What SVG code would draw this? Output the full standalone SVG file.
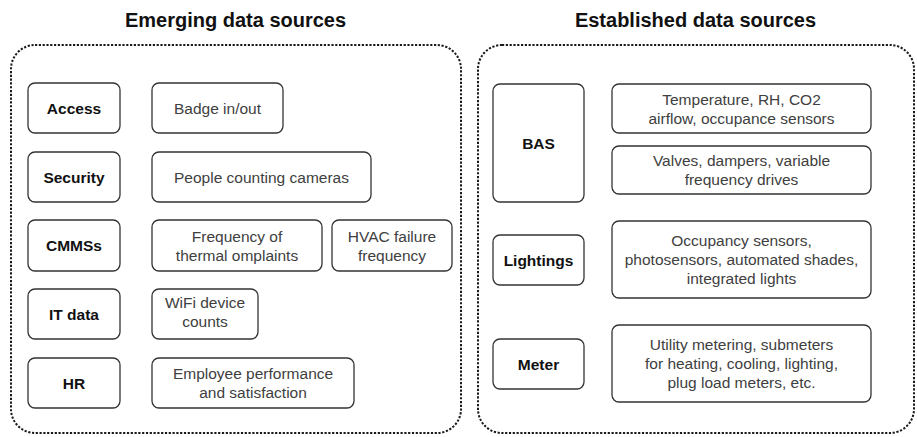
<svg xmlns="http://www.w3.org/2000/svg" width="917" height="437" viewBox="0 0 917 437">
<style>
.title{font-family:"Liberation Sans",Arial,sans-serif;font-weight:bold;font-size:20px;fill:#111;text-anchor:middle}
.outer{fill:none;stroke:#1a1a1a;stroke-width:2;stroke-dasharray:2.2 1.6}
.box{fill:#fff;stroke:#333;stroke-width:1.3}
.lbl{font-family:"Liberation Sans",Arial,sans-serif;font-weight:bold;font-size:15.5px;fill:#111;text-anchor:middle}
.det{font-family:"Liberation Sans",Arial,sans-serif;font-size:15.5px;fill:#404040;text-anchor:middle}
</style>
<rect width="917" height="437" fill="#fff"/>
<text class="title" x="235.5" y="27">Emerging data sources</text>
<text class="title" x="695.5" y="27">Established data sources</text>
<rect class="outer" x="11" y="45" width="450" height="388" rx="24"/>
<rect class="outer" x="478" y="45" width="436" height="388" rx="24"/>
<g id="access"><rect class="box" x="28" y="83" width="92" height="50" rx="7"/><text class="lbl" x="74" y="113.5">Access</text></g>
<g id="badge"><rect class="box" x="152" y="83" width="131" height="50" rx="7"/><text class="det" x="217.5" y="113.5">Badge in/out</text></g>
<g id="security"><rect class="box" x="28" y="152" width="92" height="50" rx="7"/><text class="lbl" x="74" y="182.5">Security</text></g>
<g id="people"><rect class="box" x="152" y="152" width="219" height="50" rx="7"/><text class="det" x="261.5" y="182.5">People counting cameras</text></g>
<g id="cmmss"><rect class="box" x="28" y="220" width="92" height="51" rx="7"/><text class="lbl" x="74" y="251">CMMSs</text></g>
<g id="thermal"><rect class="box" x="152" y="220" width="170" height="51" rx="7"/><text class="det" x="237" y="241.5">Frequency of</text><text class="det" x="237" y="260.5">thermal omplaints</text></g>
<g id="hvac"><rect class="box" x="332" y="220" width="120" height="51" rx="7"/><text class="det" x="392" y="241.5">HVAC failure</text><text class="det" x="392" y="260.5">frequency</text></g>
<g id="itdata"><rect class="box" x="28" y="289" width="92" height="50" rx="7"/><text class="lbl" x="74" y="319.5">IT data</text></g>
<g id="wifi"><rect class="box" x="152" y="289" width="106" height="50" rx="7"/><text class="det" x="205" y="308">WiFi device</text><text class="det" x="205" y="327">counts</text></g>
<g id="hr"><rect class="box" x="28" y="358" width="92" height="50" rx="7"/><text class="lbl" x="74" y="388.5">HR</text></g>
<g id="employee"><rect class="box" x="152" y="358" width="202" height="50" rx="7"/><text class="det" x="253" y="379">Employee performance</text><text class="det" x="253" y="398">and satisfaction</text></g>
<g id="bas"><rect class="box" x="493" y="84" width="91" height="118" rx="7"/><text class="lbl" x="538.5" y="148.5">BAS</text></g>
<g id="temperature"><rect class="box" x="612" y="84" width="259" height="49" rx="7"/><text class="det" x="741.5" y="104.5">Temperature, RH, CO2</text><text class="det" x="741.5" y="123.5">airflow, occupance sensors</text></g>
<g id="valves"><rect class="box" x="612" y="146" width="259" height="48" rx="7"/><text class="det" x="741.5" y="166">Valves, dampers, variable</text><text class="det" x="741.5" y="185">frequency drives</text></g>
<g id="lightings"><rect class="box" x="493" y="235" width="91" height="50" rx="7"/><text class="lbl" x="538.5" y="265.5">Lightings</text></g>
<g id="occupancy"><rect class="box" x="612" y="221" width="259" height="77" rx="7"/><text class="det" x="741.5" y="246">Occupancy sensors,</text><text class="det" x="741.5" y="265">photosensors, automated shades,</text><text class="det" x="741.5" y="284">integrated lights</text></g>
<g id="meter"><rect class="box" x="493" y="339" width="91" height="50" rx="7"/><text class="lbl" x="538.5" y="369.5">Meter</text></g>
<g id="utility"><rect class="box" x="612" y="325" width="259" height="77" rx="7"/><text class="det" x="741.5" y="350">Utility metering, submeters</text><text class="det" x="741.5" y="369">for heating, cooling, lighting,</text><text class="det" x="741.5" y="388">plug load meters, etc.</text></g>
<g id="connectors"></g>
</svg>
